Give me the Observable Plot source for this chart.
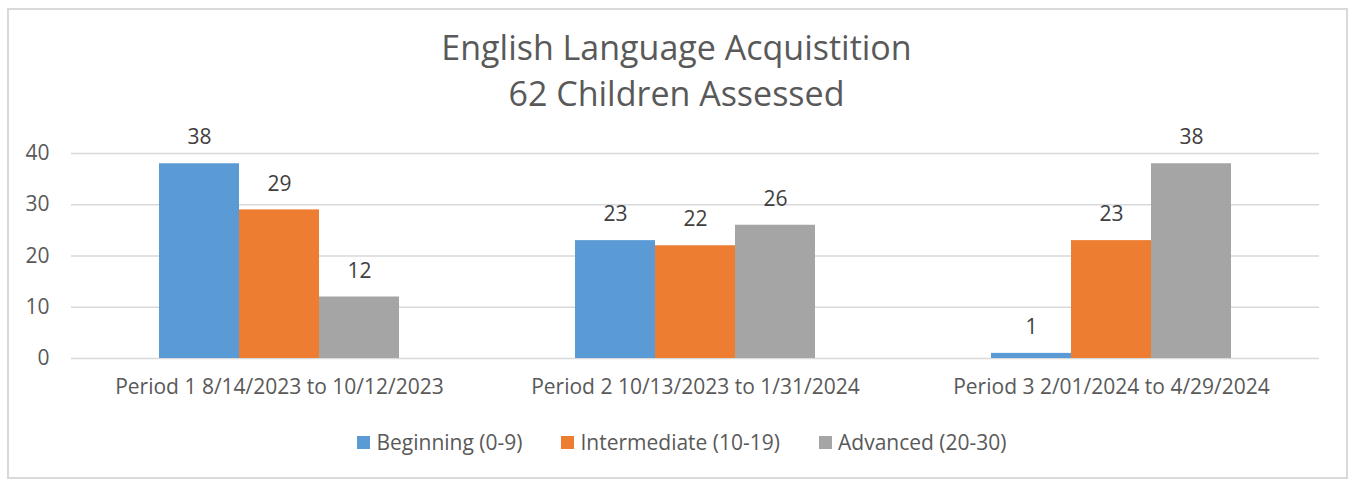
<!DOCTYPE html>
<html>
<head>
<meta charset="utf-8">
<script src="https://cdn.jsdelivr.net/npm/d3@7"></script>
<script src="https://cdn.jsdelivr.net/npm/@observablehq/plot@0.6"></script>
<style>
  body { margin: 0; background: #fff; font-family: "Open Sans", sans-serif; color: #595959; }
  #frame { position: absolute; left: 7px; top: 8px; width: 1341px; height: 471px; border: 2px solid #d9d9d9; box-sizing: border-box; }
  #title { position: absolute; left: 0; top: 24px; width: 1353px; text-align: center; font-size: 34px; line-height: 46px; color: #595959; }
  #chart { position: absolute; left: 0; top: 116px; }
  #legend { position: absolute; left: 0; top: 428px; width: 1364px; display: flex; justify-content: center; font-size: 21px; line-height: 28px; color: #595959; }
  .item { display: flex; align-items: center; margin: 0 19.5px; }
  .sw { width: 13px; height: 13px; margin-right: 6px; }
</style>
</head>
<body>
<div id="frame"></div>
<div id="title">English Language Acquistition<br>62 Children Assessed</div>
<div id="chart"></div>
<div id="legend"></div>
<script>
const periods = [
  "Period 1 8/14/2023 to 10/12/2023",
  "Period 2 10/13/2023 to 1/31/2024",
  "Period 3 2/01/2024 to 4/29/2024"
];
const series = ["Beginning (0-9)", "Intermediate (10-19)", "Advanced (20-30)"];
const beginning = [38, 23, 1];
const intermediate = [29, 22, 23];
const advanced = [12, 26, 38];
const colors = ["#5b9bd5", "#ed7d31", "#a5a5a5"];
const yTicks = [0, 10, 20, 30, 40];

const values = [beginning, intermediate, advanced];
const data = [];
periods.forEach((p, i) => {
  series.forEach((s, j) => {
    data.push({period: p, series: s, value: values[j][i]});
  });
});

const chart = Plot.plot({
  width: 1353,
  height: 290,
  marginTop: 37,
  marginBottom: 48,
  marginLeft: 71,
  marginRight: 34,
  style: {fontFamily: "'Open Sans', sans-serif", color: "#595959", background: "transparent"},
  fx: {domain: periods, padding: 0, label: null},
  x: {domain: series, paddingInner: 0, paddingOuter: 1.1, axis: null},
  y: {domain: [0, 40], axis: null},
  color: {domain: series, range: colors},
  marks: [
    Plot.gridY(yTicks, {stroke: "#d9d9d9", strokeOpacity: 1, strokeWidth: 1.5}),
    Plot.barY(data, {fx: "period", x: "series", y: "value", fill: "series", inset: 0}),
    Plot.text(data, {fx: "period", x: "series", y: "value", text: d => String(d.value), dy: -26, fontSize: 21, fill: "#404040"}),
    Plot.axisY(yTicks, {tickSize: 0, tickPadding: 22, fontSize: 21, label: null, fill: "#595959"}),
    Plot.axisFx({anchor: "bottom", tickSize: 0, tickPadding: 21, fontSize: 21, label: null, fill: "#595959"})
  ]
});
document.getElementById("chart").appendChild(chart);

const legend = document.getElementById("legend");
series.forEach((s, j) => {
  const item = document.createElement("div");
  item.className = "item";
  const sw = document.createElement("span");
  sw.className = "sw";
  sw.style.background = colors[j];
  const t = document.createElement("span");
  t.textContent = s;
  item.appendChild(sw);
  item.appendChild(t);
  legend.appendChild(item);
});
</script>
</body>
</html>
